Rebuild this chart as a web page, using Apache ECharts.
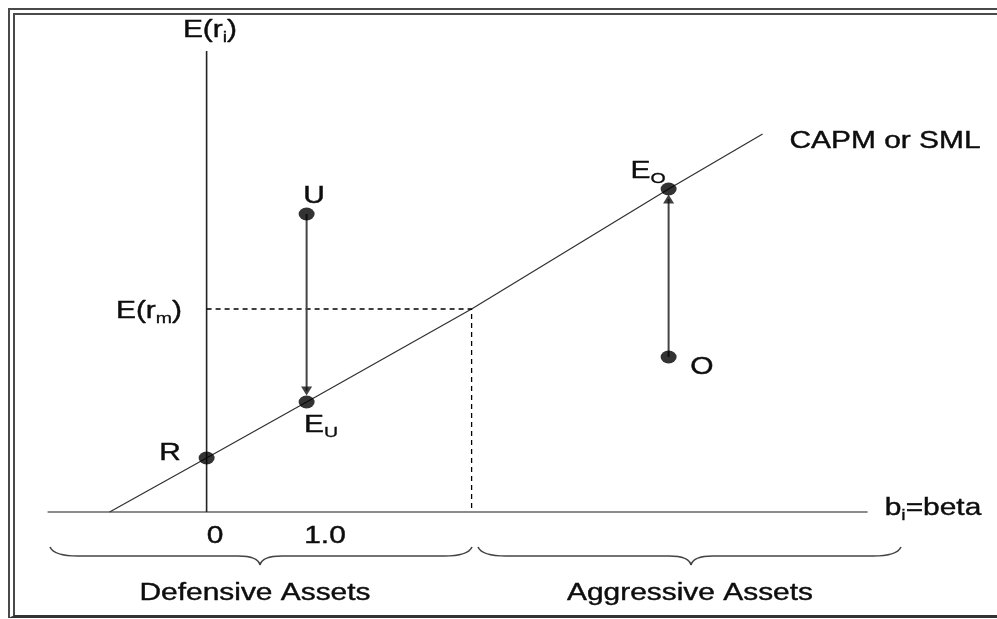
<!DOCTYPE html>
<html><head><meta charset="utf-8">
<script src="https://cdn.jsdelivr.net/npm/echarts@6/dist/echarts.min.js"></script>
<style>
html,body{margin:0;padding:0;background:#fff;overflow:hidden;}
#wrap{position:relative;width:997px;height:619px;overflow:hidden;background:#fff;}
#frame{position:absolute;left:8px;top:8px;right:-20px;bottom:1px;border-left:7px double #4a4a4a;border-top:7px double #4a4a4a;border-bottom:3px solid #333;box-sizing:border-box;}
#chart{position:absolute;left:0;top:0;width:997px;height:619px;}
</style></head>
<body><div id="wrap"><div id="frame"></div><div id="chart"></div></div>
<script>
// ---- values (x = beta units, y = expected return units) ----
var smlBeta   = [-0.97, 0, 1.0, 2.65, 4.62, 5.56];
var smlReturn = [0, 0.54, 1.10, 2.03, 3.23, 3.78];
var pointNames  = ['R', 'U', 'E_U', 'E_O', 'O'];
var pointBeta   = [0, 1.0, 1.0, 4.62, 4.62];
var pointReturn = [0.54, 2.98, 1.10, 3.23, 1.55];
var marketBeta = 2.65;
var marketReturn = 2.03;
var xAxisBeta = [-1.59, 6.61];
var yAxisReturn = [0, 4.61];
// arrows: [beta, fromReturn, toReturn]
var arrowBeta = [1.0, 4.62];
var arrowFrom = [2.98, 1.55];
var arrowTo   = [1.21, 3.13];
// braces: [startBeta, endBeta, cuspBeta]
var braceStart = [-1.566, 2.714];
var braceEnd   = [2.654, 6.944];
var braceCusp  = [0.534, 4.844];
var braceLevels = [-0.35, -0.44, -0.53]; // ends, flat, cusp
// texts
var labelTexts = ['{n|E(r}{s|i}{n|)}', 'U', '{n|E(r}{s|m}{n|)}', '{n|E}{s|U}', 'R',
  '{n|E}{s|O}', 'O', 'CAPM or SML', '{n|b}{s|i}{n|=beta}', '0', '1.0',
  'Defensive Assets', 'Aggressive Assets'];
var labelBeta   = [0.034, 1.074, -0.576, 1.144, -0.366, 4.414, 4.954, 6.784, 7.264, 0.084, 1.184, 0.484, 4.834];
var labelReturn = [4.81, 3.15, 2.00, 0.86, 0.58, 3.40, 1.44, 3.70, 0.03, -0.25, -0.25, -0.82, -0.82];

function zip(a, b) { return a.map(function (v, i) { return [v, b[i]]; }); }

var FONT = "'Liberation Sans', Arial, sans-serif";
var TXT = '#0d0d0d';
var chart = echarts.init(document.getElementById('chart'), null, {renderer: 'canvas'});

var braceData = braceStart.map(function (s, i) {
  return [s, braceEnd[i], braceCusp[i], braceLevels[0], braceLevels[1], braceLevels[2]];
});

var series = [
  {type: 'line', name: 'xaxis', data: [[xAxisBeta[0], 0], [xAxisBeta[1], 0]], symbol: 'none', silent: true,
    lineStyle: {color: '#666', width: 1.6}, z: 2},
  {type: 'line', name: 'yaxis', data: [[0, yAxisReturn[0]], [0, yAxisReturn[1]]], symbol: 'none', silent: true,
    lineStyle: {color: '#222', width: 1.6}, z: 2},
  {type: 'line', name: 'SML', data: zip(smlBeta, smlReturn), symbol: 'none', silent: true,
    lineStyle: {color: '#333', width: 1.3}, z: 3},
  {type: 'line', name: 'market', data: [[0, marketReturn], [marketBeta, marketReturn], [marketBeta, 0]],
    symbol: 'none', silent: true, lineStyle: {color: '#000', width: 1.3, type: [5, 4]}, z: 3}
];
arrowBeta.forEach(function (b, i) {
  series.push({type: 'line', data: [[b, arrowFrom[i]], [b, arrowTo[i]]], symbol: 'none', silent: true,
    lineStyle: {color: '#444', width: 2}, z: 4});
});
series.push({type: 'scatter', data: arrowBeta.map(function (b, i) {
    return {value: [b, arrowTo[i]], symbolRotate: arrowTo[i] < arrowFrom[i] ? 180 : 0};
  }), symbol: 'triangle', symbolSize: [11, 9], itemStyle: {color: '#111'}, silent: true, z: 5});
series.push({type: 'scatter', data: zip(pointBeta, pointReturn),
  symbol: 'path://M0 50A50 50 0 1 1 100 50A50 50 0 1 1 0 50Z', symbolSize: [16, 13],
  itemStyle: {color: '#000'}, silent: true, z: 6});
series.push({type: 'custom', data: braceData, silent: true, z: 2,
  renderItem: function (params, api) {
    var a = api.coord([api.value(0), api.value(3)]);
    var b = api.coord([api.value(1), api.value(3)]);
    var c = api.coord([api.value(2), api.value(5)]);
    var yf = api.coord([api.value(0), api.value(4)])[1];
    var w = 28, wc = 22;
    var st = {fill: 'none', stroke: '#444', lineWidth: 1.6};
    return {type: 'group', children: [
      {type: 'bezierCurve', shape: {x1: a[0], y1: a[1], cpx1: a[0] + 4, cpy1: yf, x2: a[0] + w, y2: yf}, style: st},
      {type: 'line', shape: {x1: a[0] + w, y1: yf, x2: c[0] - wc, y2: yf}, style: st},
      {type: 'bezierCurve', shape: {x1: c[0] - wc, y1: yf, cpx1: c[0] - 2, cpy1: yf, x2: c[0], y2: c[1]}, style: st},
      {type: 'bezierCurve', shape: {x1: c[0], y1: c[1], cpx1: c[0] + 2, cpy1: yf, x2: c[0] + wc, y2: yf}, style: st},
      {type: 'line', shape: {x1: c[0] + wc, y1: yf, x2: b[0] - w, y2: yf}, style: st},
      {type: 'bezierCurve', shape: {x1: b[0] - w, y1: yf, cpx1: b[0] - 4, cpy1: yf, x2: b[0], y2: b[1]}, style: st}
    ]};
  }
});

chart.setOption({
  animation: false,
  backgroundColor: 'transparent',
  grid: {left: 6.6, right: 40.4, top: 12, bottom: 7},
  xAxis: {type: 'value', min: -2, max: 7.5, show: false},
  yAxis: {type: 'value', min: -1, max: 5, show: false},
  series: series
});

var rich = {
  n: {fontSize: 23, lineHeight: 23, fontFamily: FONT, fill: TXT, stroke: TXT, lineWidth: 0.4},
  s: {fontSize: 15, lineHeight: 15, fontFamily: FONT, fill: TXT, stroke: TXT, lineWidth: 0.3, padding: [13, 0, 0, 0]}
};
var graphics = labelTexts.map(function (t, i) {
  var p = chart.convertToPixel({gridIndex: 0}, [labelBeta[i], labelReturn[i]]);
  return {type: 'text', x: p[0], y: p[1], scaleX: 1.3, silent: true, z: 10,
    style: {text: t, rich: rich, fontSize: 23, fontFamily: FONT, fill: TXT, stroke: TXT, lineWidth: 0.4,
      align: 'center', verticalAlign: 'middle'}};
});
chart.setOption({graphic: graphics});
</script>
</body></html>
